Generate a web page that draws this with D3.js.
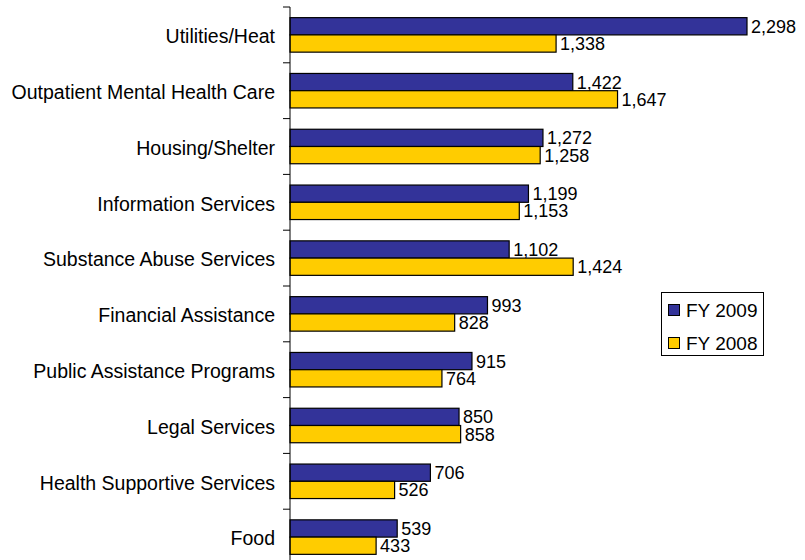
<!DOCTYPE html>
<html><head><meta charset="utf-8">
<script src="https://cdn.jsdelivr.net/npm/d3@7"></script>
<style>body{margin:0;background:#fff}svg{display:block}text{font-family:"Liberation Sans",Arial,sans-serif}</style>
</head><body><svg id="c" width="805" height="560"></svg>
<script>
const categories = ["Utilities/Heat","Outpatient Mental Health Care","Housing/Shelter","Information Services","Substance Abuse Services","Financial Assistance","Public Assistance Programs","Legal Services","Health Supportive Services","Food"];
const fy2009 = [2298,1422,1272,1199,1102,993,915,850,706,539];
const fy2008 = [1338,1647,1258,1153,1424,828,764,858,526,433];
const seriesNames = ["FY 2009","FY 2008"];
const colors = ["#333399","#FFCC00"];

const svg = d3.select("#c");
const x = d3.scaleLinear().domain([0,2298]).range([290,747]);
const y = d3.scaleBand().domain(categories).range([7,565]).padding(0);
const sub = d3.scaleBand().domain([0,1]).range([0,34.5]);
const fmt = d3.format(",");
const series = [fy2009, fy2008];

const g = svg.append("g");
categories.forEach((c,i)=>{
  const y0 = y(c) + (y.bandwidth()-34.5)/2;
  series.forEach((s,k)=>{
    g.append("rect").attr("x",x(0)).attr("y",y0+sub(k)).attr("width",x(s[i])-x(0)).attr("height",sub.bandwidth())
      .attr("fill",colors[k]).attr("stroke","#000").attr("stroke-width",1.2);
    g.append("text").attr("x",x(s[i])+4).attr("y",y0+sub(k)+sub.bandwidth()/2).attr("dy","0.36em")
      .attr("font-size",18).attr("fill","#000").text(fmt(s[i]));
  });
});

const ax = svg.append("g").attr("transform","translate(290,0)").call(d3.axisLeft(y).tickSize(0).tickPadding(15).tickFormat(d=>d));
ax.select(".domain").attr("stroke","#000").attr("d","M0,7V565");
ax.selectAll("text").attr("font-size",19.5).attr("fill","#000").attr("font-family","'Liberation Sans',Arial,sans-serif").attr("dy","0.42em");
const bounds = categories.map(c=>y(c)).concat([y.range()[1]]);
svg.append("g").selectAll("line").data(bounds).join("line")
  .attr("x1",283).attr("x2",290).attr("y1",d=>d).attr("y2",d=>d).attr("stroke","#000");

const lg = svg.append("g");
lg.append("rect").attr("x",661.5).attr("y",292.5).attr("width",102).attr("height",63).attr("fill","#fff").attr("stroke","#000");
seriesNames.forEach((n,k)=>{
  const yy = 304 + k*33;
  lg.append("rect").attr("x",668.5).attr("y",yy+0.5).attr("width",11).attr("height",11).attr("fill",colors[k]).attr("stroke","#000");
  lg.append("text").attr("x",686).attr("y",yy+12.5).attr("font-size",19).text(n);
});
</script></body></html>
